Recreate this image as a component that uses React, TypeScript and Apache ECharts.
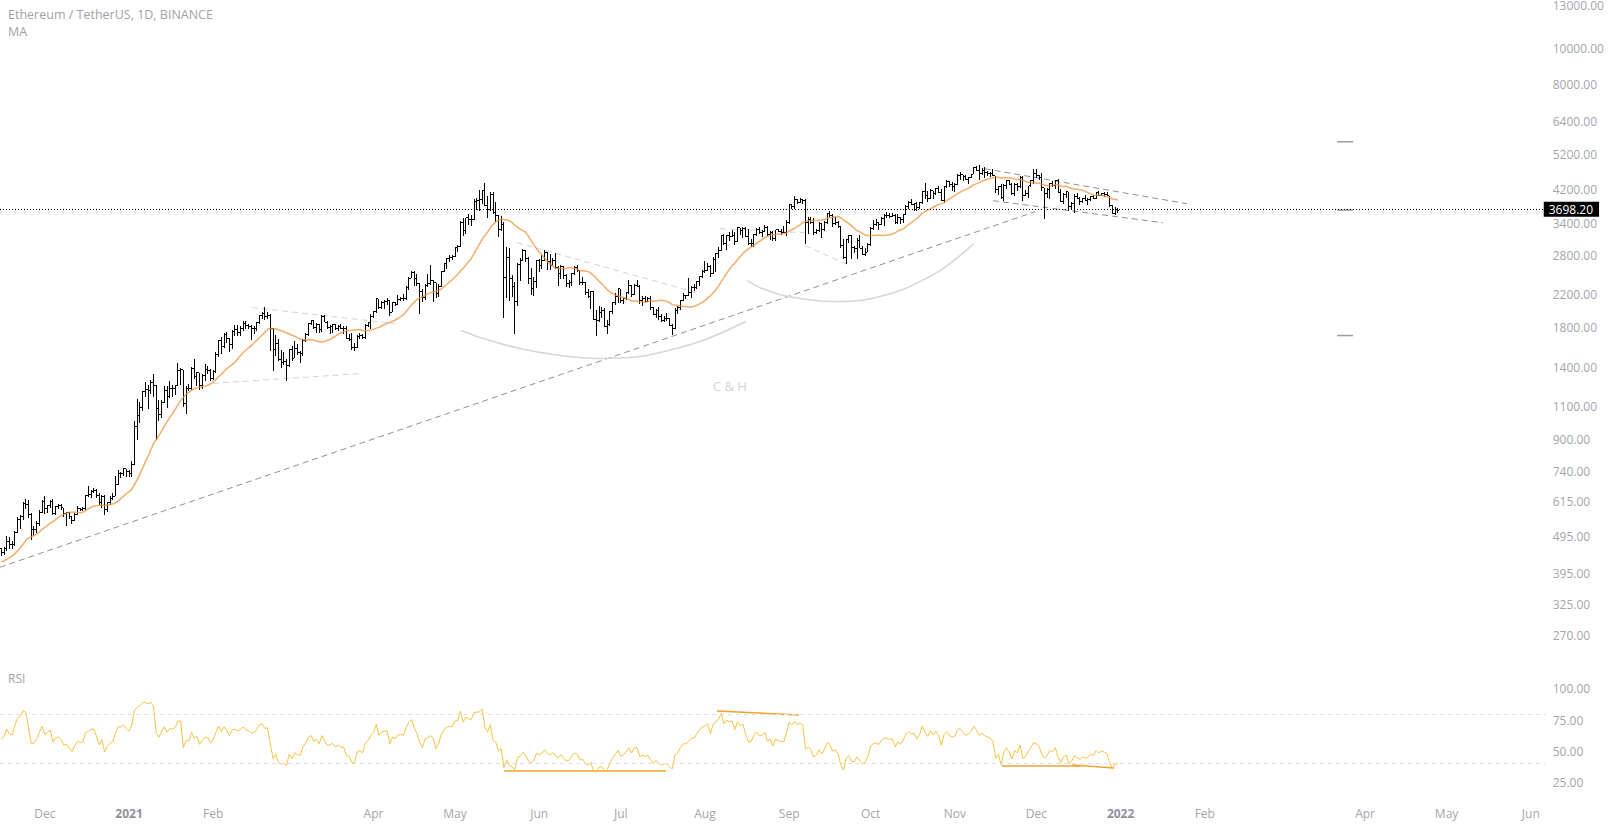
import React, { useEffect, useRef } from "react";
import * as echarts from "echarts";

// ---------- data ----------
const startDate = "2020-11-15"; // first bar (index 0)

// daily closes before the first visible bar (Oct 10 - Nov 14 2020), used for MA / RSI warm-up
const warmupCloses = [
  370, 375, 387, 381, 379, 377, 366, 368, 377, 379, 368, 392, 413, 409, 412, 406, 393, 404, 388, 386,
  382, 386, 396, 383, 388, 402, 415, 448, 435, 453, 444, 449, 462, 463, 475, 461,
];

const closes = [
  // Nov 2020 (15-30)
  448, 459, 481, 472, 471, 509, 549, 559, 608, 604, 567, 517, 518, 537, 575, 614,
  // Dec 2020
  587, 598, 616, 569, 596, 601, 591, 569, 573, 559, 545, 568, 590, 586, 589, 636, 643, 654, 659, 638, 609, 634, 584, 611, 626, 635, 683, 731, 731, 751, 737,
  // Jan 2021
  729, 774, 978, 1041, 1099, 1208, 1224, 1216, 1276, 1255, 1088, 1050, 1130, 1218, 1171, 1233, 1229, 1257, 1377, 1382, 1121, 1236, 1230, 1392, 1323, 1357, 1253, 1332, 1382, 1378, 1314,
  // Feb
  1369, 1515, 1660, 1593, 1723, 1679, 1614, 1750, 1769, 1743, 1784, 1843, 1813, 1804, 1779, 1782, 1846, 1937, 1960, 1919, 1935, 1781, 1568, 1626, 1475, 1446, 1459, 1417,
  // Mar
  1567, 1487, 1575, 1541, 1533, 1654, 1723, 1834, 1868, 1799, 1826, 1771, 1924, 1854, 1791, 1806, 1823, 1780, 1810, 1782, 1785, 1679, 1669, 1583, 1586, 1700, 1713, 1688, 1817, 1846, 1919,
  // Apr
  1977, 2143, 2028, 2093, 2108, 2118, 1971, 2088, 2072, 2135, 2152, 2139, 2299, 2432, 2514, 2423, 2355, 2237, 2161, 2331, 2357, 2403, 2364, 2211, 2316, 2534, 2662, 2747, 2757, 2773,
  // May
  2945, 2949, 3431, 3253, 3523, 3490, 3484, 3902, 3928, 3952, 4169, 3812, 3716, 4079, 3640, 3585, 3282, 3375, 2438, 2767, 2432, 2306, 2110, 2644, 2708, 2887, 2746, 2422, 2281, 2386, 2709,
  // Jun
  2632, 2709, 2856, 2689, 2630, 2711, 2592, 2508, 2610, 2471, 2353, 2372, 2508, 2590, 2549, 2366, 2374, 2231, 2178, 2244, 1889, 1875, 1970, 1989, 1808, 1829, 1981, 2087, 2169, 2275,
  // Jul
  2114, 2150, 2226, 2322, 2198, 2323, 2316, 2115, 2147, 2110, 2140, 2034, 1940, 1994, 1917, 1876, 1898, 1895, 1820, 1787, 1994, 2026, 2123, 2188, 2191, 2233, 2298, 2299, 2383, 2461, 2533,
  // Aug
  2557, 2608, 2507, 2723, 2827, 2890, 3157, 3013, 3163, 3141, 3164, 3048, 3322, 3265, 3309, 3148, 3012, 3017, 3182, 3287, 3226, 3242, 3322, 3173, 3225, 3100, 3272, 3244, 3226, 3224, 3433,
  // Sep
  3834, 3787, 3940, 3887, 3952, 3927, 3431, 3496, 3427, 3212, 3267, 3411, 3290, 3429, 3614, 3570, 3399, 3433, 3333, 2978, 2765, 3078, 3155, 2931, 2926, 3064, 2926, 2808, 2852, 3001,
  // Oct
  3308, 3391, 3418, 3381, 3518, 3581, 3587, 3563, 3576, 3416, 3543, 3495, 3605, 3791, 3868, 3830, 3847, 3748, 3875, 4156, 4053, 3971, 4167, 4084, 4218, 4132, 3922, 4285, 4415, 4322, 4288,
  // Nov
  4319, 4588, 4603, 4536, 4477, 4518, 4611, 4807, 4732, 4633, 4718, 4664, 4646, 4625, 4570, 4210, 4289, 3992, 4300, 4434, 4319, 4088, 4340, 4271, 4525, 4044, 4098, 4293, 4444, 4631,
  // Dec
  4588, 4519, 4240, 4101, 4198, 4347, 4310, 4434, 4111, 3894, 4074, 4136, 3785, 3861, 4022, 3961, 3889, 3960, 3923, 3942, 4022, 3982, 4109, 4048, 4094, 4069, 4036, 3794, 3628, 3711, 3698.2,
];

const highs = [
  462, 464, 497, 495, 483, 514, 558, 564, 612, 624, 619, 574, 529, 545, 582, 620,
  634, 600, 622, 623, 598, 605, 606, 592, 577, 575, 562, 574, 597, 591, 595, 641, 676, 660, 667, 663, 648, 640, 639, 614, 634, 649, 718, 745, 739, 754, 750,
  746, 787, 1011, 1154, 1132, 1212, 1280, 1260, 1298, 1348, 1260, 1146, 1148, 1250, 1250, 1290, 1262, 1260, 1440, 1395, 1384, 1255, 1267, 1404, 1476, 1364, 1358, 1345, 1435, 1415, 1386,
  1380, 1540, 1665, 1690, 1733, 1749, 1680, 1770, 1826, 1820, 1807, 1870, 1870, 1835, 1824, 1812, 1855, 1937, 1971, 2042, 1979, 1949, 1785, 1710, 1674, 1558, 1541, 1476,
  1570, 1600, 1652, 1623, 1548, 1669, 1734, 1845, 1875, 1881, 1843, 1832, 1944, 1936, 1870, 1822, 1833, 1838, 1820, 1832, 1813, 1806, 1726, 1740, 1629, 1710, 1733, 1727, 1837, 1853, 1947,
  1990, 2146, 2145, 2110, 2124, 2150, 2132, 2098, 2100, 2197, 2168, 2200, 2316, 2450, 2545, 2549, 2498, 2360, 2268, 2345, 2495, 2645, 2400, 2351, 2353, 2545, 2676, 2760, 2798, 2799,
  2950, 2985, 3458, 3531, 3530, 3600, 3580, 3970, 3982, 4197, 4190, 4372, 4042, 4146, 4145, 3890, 3583, 3560, 3437, 2950, 2930, 2480, 2382, 2663, 2752, 2910, 2890, 2765, 2585, 2450, 2715,
  2735, 2800, 2893, 2857, 2817, 2745, 2845, 2620, 2637, 2614, 2491, 2410, 2513, 2620, 2633, 2556, 2447, 2380, 2280, 2253, 2252, 2002, 2045, 2038, 2019, 1875, 1986, 2106, 2221, 2282,
  2276, 2151, 2238, 2400, 2325, 2347, 2409, 2328, 2185, 2182, 2160, 2177, 2040, 2007, 2033, 1956, 1930, 1960, 1905, 1839, 2025, 2045, 2130, 2214, 2196, 2434, 2318, 2344, 2397, 2470, 2550,
  2699, 2665, 2630, 2765, 2839, 2950, 3180, 3185, 3180, 3230, 3275, 3226, 3330, 3310, 3332, 3335, 3290, 3100, 3196, 3305, 3330, 3270, 3375, 3360, 3248, 3249, 3280, 3290, 3289, 3348, 3470,
  3838, 3840, 4027, 3970, 3975, 3966, 3950, 3542, 3550, 3520, 3290, 3435, 3400, 3466, 3625, 3675, 3606, 3546, 3450, 3363, 3100, 3100, 3174, 3169, 2966, 3117, 3172, 2965, 2922, 3018,
  3333, 3470, 3492, 3435, 3545, 3600, 3658, 3640, 3625, 3607, 3618, 3550, 3610, 3810, 3900, 3967, 3858, 3888, 3882, 4170, 4377, 4160, 4200, 4172, 4230, 4294, 4200, 4300, 4460, 4415, 4390,
  4380, 4609, 4662, 4603, 4578, 4529, 4632, 4822, 4840, 4868, 4780, 4810, 4705, 4689, 4774, 4574, 4300, 4345, 4340, 4448, 4445, 4367, 4375, 4370, 4555, 4550, 4180, 4300, 4460, 4760,
  4778, 4598, 4650, 4250, 4235, 4375, 4420, 4445, 4485, 4200, 4100, 4150, 4140, 3890, 4075, 4100, 4000, 3995, 4050, 3987, 4045, 4069, 4145, 4150, 4114, 4123, 4130, 4037, 3827, 3768, 3740,
];

const lows = [
  440, 441, 453, 460, 460, 468, 506, 520, 550, 585, 555, 485, 496, 506, 530, 572,
  570, 573, 590, 565, 565, 587, 584, 558, 530, 551, 536, 544, 566, 578, 581, 583, 630, 626, 646, 627, 601, 592, 567, 576, 602, 619, 634, 681, 711, 721, 716,
  714, 714, 768, 897, 998, 1071, 1167, 1085, 1195, 1170, 900, 1008, 1030, 1125, 1094, 1165, 1167, 1185, 1251, 1262, 1100, 1051, 1215, 1222, 1305, 1254, 1220, 1225, 1293, 1350, 1287,
  1295, 1360, 1500, 1520, 1583, 1636, 1545, 1570, 1706, 1700, 1700, 1760, 1775, 1780, 1657, 1729, 1756, 1829, 1887, 1876, 1890, 1551, 1370, 1510, 1460, 1400, 1424, 1293,
  1408, 1460, 1486, 1515, 1440, 1507, 1638, 1702, 1826, 1775, 1730, 1733, 1745, 1852, 1781, 1720, 1733, 1765, 1761, 1780, 1725, 1668, 1651, 1560, 1548, 1584, 1676, 1670, 1675, 1800, 1775,
  1905, 1960, 2014, 2010, 2009, 2065, 1925, 1970, 2052, 2060, 2110, 2116, 2131, 2260, 2427, 2320, 2320, 1950, 2100, 2120, 2306, 2335, 2104, 2150, 2166, 2305, 2523, 2580, 2680, 2720,
  2770, 2850, 2945, 3160, 3200, 3375, 3360, 3470, 3700, 3680, 3830, 3790, 3520, 3680, 3620, 3440, 3125, 3260, 1900, 2155, 2112, 2170, 1728, 2050, 2394, 2700, 2680, 2340, 2190, 2185, 2290,
  2533, 2571, 2695, 2560, 2558, 2617, 2578, 2317, 2420, 2425, 2308, 2283, 2321, 2475, 2524, 2335, 2326, 2186, 2149, 2011, 1881, 1700, 1860, 1901, 1802, 1727, 1806, 1945, 2062, 2091,
  2091, 2070, 2123, 2210, 2160, 2190, 2303, 2080, 2051, 2095, 2102, 2003, 1934, 1908, 1880, 1851, 1853, 1863, 1808, 1718, 1776, 1953, 2003, 2109, 2142, 2178, 2150, 2245, 2271, 2313, 2440,
  2509, 2546, 2450, 2497, 2529, 2749, 2880, 2982, 2901, 3060, 3136, 2976, 3030, 3178, 3111, 3140, 2980, 2953, 2951, 3160, 3195, 3140, 3240, 3155, 3080, 3060, 3060, 3225, 3166, 3210, 3150,
  3388, 3720, 3713, 3830, 3866, 3850, 3000, 3200, 3390, 3175, 3200, 3222, 3120, 3250, 3400, 3547, 3336, 3366, 3302, 2920, 2730, 2655, 3020, 2735, 2835, 2733, 2924, 2800, 2795, 2853,
  2968, 3271, 3351, 3270, 3374, 3363, 3520, 3530, 3550, 3400, 3395, 3386, 3420, 3587, 3725, 3810, 3678, 3683, 3720, 3840, 3957, 3896, 3953, 3972, 4066, 4110, 3900, 3862, 4230, 4260, 4150,
  4147, 4305, 4440, 4430, 4455, 4330, 4500, 4609, 4715, 4461, 4580, 4520, 4570, 4530, 4555, 4115, 4060, 3965, 3922, 4200, 4305, 4066, 4040, 4160, 4240, 3920, 4040, 3976, 4270, 4350,
  4507, 4463, 4170, 3500, 3994, 3950, 4275, 4220, 4100, 3880, 3844, 3993, 3677, 3693, 3640, 3956, 3807, 3853, 3910, 3820, 3919, 3955, 3970, 4030, 4035, 4010, 4024, 3760, 3610, 3590, 3622,
];

const lastPrice = 3698.2;
const maLength = 20;
const rsiLength = 14;
const rsiBands = [80, 40];

const priceTicks = [13000, 10000, 8000, 6400, 5200, 4200, 3400, 2800, 2200, 1800, 1400, 1100, 900, 740, 615, 495, 395, 325, 270];
const rsiTicks = [25, 50, 75, 100];

const monthLabels: [string, string][] = [
  ["2020-12-01", "Dec"], ["2021-01-01", "2021"], ["2021-02-01", "Feb"], ["2021-04-01", "Apr"],
  ["2021-05-01", "May"], ["2021-06-01", "Jun"], ["2021-07-01", "Jul"], ["2021-08-01", "Aug"],
  ["2021-09-01", "Sep"], ["2021-10-01", "Oct"], ["2021-11-01", "Nov"], ["2021-12-01", "Dec"],
  ["2022-01-01", "2022"], ["2022-02-01", "Feb"], ["2022-04-01", "Apr"], ["2022-05-01", "May"],
  ["2022-06-01", "Jun"],
];

// drawings, as [day index, price]
const trendLine = [[-0.5, 410], [380.5, 3662]];
const wedgeUpper = [[362, 4770], [436.4, 3847]];
const wedgeLower = [[365, 3919], [427.6, 3422]];
const triangleUpper = [[92.3, 2029], [144.9, 1839]];
const triangleLower = [[77.9, 1272], [132.8, 1352]];
const cupLineA = [[189.8, 3026], [257.2, 2212]];
const cupLineB = [[264.5, 3299], [295.8, 3218]];
const cupLineC = [[295.8, 2971], [312.4, 2627]];
const cupArc = [
  [169.2, 1762], [176.2, 1687], [183.6, 1626], [190.9, 1577], [198.3, 1539], [205.6, 1511], [213.0, 1492], [220.4, 1483],
  [227.7, 1487], [235.1, 1501], [242.5, 1539], [249.8, 1587], [257.2, 1646], [264.5, 1729], [274.1, 1862],
];
const handleArc = [
  [274.5, 2395], [279.3, 2294], [286.6, 2198], [294.0, 2145], [301.4, 2112], [308.7, 2105], [316.1, 2118],
  [323.4, 2171], [330.8, 2253], [338.2, 2381], [345.5, 2547], [352.9, 2794], [358.0, 3008],
];
const targetMarkPrices = [5633, 3698.2, 1708];
const targetMarkSpan = [491.7, 497.6];
const patternLabel = { x: 268.2, price: 1248, text: "C & H" };

// RSI drawings, as [day index, rsi]
const rsiLineJun = [[185.0, 33.9], [244.7, 33.9]];
const rsiLineAug = [[263.4, 82.3], [293.6, 79.0]];
const rsiLineDec1 = [[368.3, 37.9], [397.0, 37.9]];
const rsiLineDec2 = [[394.1, 38.7], [409.6, 36.3]];

// ---------- layout ----------
const DAY_W = 2.7166;
const SLOTS = 569;
const PLOT_W = SLOTS * DAY_W;
const FONT = '"Open Sans", "Noto Sans", sans-serif';
const AXIS_COLOR = "#a3a6ad";

const L = Math.log10;

function dayIndex(d: string) {
  return Math.round((Date.parse(d + "T00:00:00Z") - Date.parse(startDate + "T00:00:00Z")) / 86400000);
}

function buildOption() {
  const all = warmupCloses.concat(closes);
  const off = warmupCloses.length;

  const bars = closes.map((c, k) => {
    const o = all[off + k - 1];
    const h = Math.max(highs[k], o, c);
    const l = Math.min(lows[k], o, c);
    return [k, L(o), L(h), L(l), L(c)];
  });

  const ma = closes.map((_, k) => {
    const j = off + k;
    let s = 0;
    for (let t = j - maLength + 1; t <= j; t++) s += all[t];
    return [k, L(s / maLength)];
  });

  // Wilder RSI
  const rsiAll: number[] = new Array(all.length).fill(NaN);
  let ag = 0, al = 0;
  for (let t = 1; t < all.length; t++) {
    const ch = all[t] - all[t - 1];
    const g = Math.max(ch, 0), lo = Math.max(-ch, 0);
    if (t <= rsiLength) {
      ag += g / rsiLength;
      al += lo / rsiLength;
    } else {
      ag = (ag * (rsiLength - 1) + g) / rsiLength;
      al = (al * (rsiLength - 1) + lo) / rsiLength;
    }
    if (t >= rsiLength) rsiAll[t] = al === 0 ? 100 : 100 - 100 / (1 + ag / al);
  }
  const rsi = closes.map((_, k) => [k, rsiAll[off + k]]);

  const labelMap: Record<number, string> = {};
  monthLabels.forEach(([d, t]) => (labelMap[dayIndex(d)] = t));
  const labelIdx = Object.keys(labelMap).map(Number);

  const seg = (pts: number[][], color: string, type: any, width: number, pane = 0, smooth: any = false) => ({
    type: "line",
    xAxisIndex: pane,
    yAxisIndex: pane,
    data: pts.map(([x, y]) => [x, pane === 0 ? L(y) : y]),
    symbol: "none",
    smooth,
    silent: true,
    z: 2,
    lineStyle: { color, type, width },
  });

  const darkDash = "#8e9198";
  const lightDash = "#cfd3da";
  const arcColor = "#d6d6d6";
  const rsiDraw = "#f2a22e";

  const series: any[] = [
    seg(trendLine, darkDash, [6, 4], 1),
    seg(wedgeUpper, darkDash, [6, 4], 1),
    seg(wedgeLower, darkDash, [6, 4], 1),
    seg(triangleUpper, lightDash, [6, 4], 1),
    seg(triangleLower, lightDash, [6, 4], 1),
    seg(cupLineA, lightDash, [6, 4], 1),
    seg(cupLineB, lightDash, [6, 4], 1),
    seg(cupLineC, lightDash, [6, 4], 1),
    seg(cupArc, arcColor, "solid", 1.5, 0, 0.3),
    seg(handleArc, arcColor, "solid", 1.5, 0, 0.3),
    ...targetMarkPrices.map((p) => seg([[targetMarkSpan[0], p], [targetMarkSpan[1], p]], "#9b9ea5", "solid", 1.5)),
    {
      type: "custom",
      xAxisIndex: 0,
      yAxisIndex: 0,
      z: 3,
      silent: true,
      encode: { x: 0, y: [1, 2, 3, 4] },
      data: bars,
      renderItem: (params: any, api: any) => {
        const i = api.value(0);
        const pO = api.coord([i, api.value(1)]);
        const pH = api.coord([i, api.value(2)]);
        const pL = api.coord([i, api.value(3)]);
        const pC = api.coord([i, api.value(4)]);
        const x = Math.floor(pO[0]);
        const yH = Math.round(pH[1]);
        const yL = Math.round(pL[1]);
        const style = { fill: "#000" };
        return {
          type: "group",
          children: [
            { type: "rect", shape: { x, y: yH, width: 1, height: Math.max(1, yL - yH) }, style },
            { type: "rect", shape: { x: x - 1, y: Math.floor(pO[1]), width: 1, height: 1 }, style },
            { type: "rect", shape: { x: x + 1, y: Math.floor(pC[1]), width: 1, height: 1 }, style },
          ],
        };
      },
    },
    {
      type: "line",
      xAxisIndex: 0,
      yAxisIndex: 0,
      data: ma,
      symbol: "none",
      silent: true,
      z: 4,
      lineStyle: { color: "rgba(243,140,48,0.72)", width: 1.5 },
      markLine: {
        silent: true,
        symbol: ["none", "none"],
        z: 10,
        lineStyle: { color: "#000", type: [1, 2], width: 1 },
        label: {
          show: true,
          position: "end",
          distance: -2,
          formatter: lastPrice.toFixed(2),
          color: "#fff",
          backgroundColor: "#000",
          padding: [2, 6, 1, 5],
          fontSize: 12,
          fontFamily: FONT,
        },
        data: [{ yAxis: L(lastPrice) }],
      },
    },
    {
      type: "scatter",
      xAxisIndex: 0,
      yAxisIndex: 0,
      silent: true,
      symbolSize: 1,
      itemStyle: { color: "rgba(0,0,0,0)" },
      label: {
        show: true,
        position: "inside",
        formatter: patternLabel.text,
        color: "#c4c7cd",
        fontSize: 13,
        fontFamily: FONT,
      },
      data: [[patternLabel.x, L(patternLabel.price)]],
    },
    {
      type: "line",
      xAxisIndex: 1,
      yAxisIndex: 1,
      data: rsi,
      symbol: "none",
      silent: true,
      z: 3,
      lineStyle: { color: "#f6c244", width: 1 },
      markLine: {
        silent: true,
        symbol: ["none", "none"],
        label: { show: false },
        lineStyle: { color: "#dcdfe5", type: [4, 4], width: 1 },
        data: rsiBands.map((v) => ({ yAxis: v })),
      },
    },
    seg(rsiLineJun, rsiDraw, "solid", 1.5, 1),
    seg(rsiLineAug, rsiDraw, "solid", 1.5, 1),
    seg(rsiLineDec1, rsiDraw, "solid", 1.5, 1),
    seg(rsiLineDec2, rsiDraw, "solid", 1.5, 1),
  ];

  const hiddenX = (gridIndex: number) => ({
    type: "value",
    gridIndex,
    min: -0.5,
    max: SLOTS - 0.5,
    axisLine: { show: false },
    axisTick: { show: false },
    splitLine: { show: false },
    axisLabel: { show: false },
  });

  const nearestTick = (v: number) => {
    let best = priceTicks[0];
    for (const p of priceTicks) if (Math.abs(L(p) - v) < Math.abs(L(best) - v)) best = p;
    return best;
  };

  return {
    animation: false,
    backgroundColor: "#ffffff",
    textStyle: { fontFamily: FONT },
    grid: [
      { left: 0, top: 0, width: PLOT_W, height: 655, containLabel: false, outerBoundsMode: "none" },
      { left: 0, top: 657, width: PLOT_W, height: 143, containLabel: false, outerBoundsMode: "none" },
    ],
    xAxis: [
      hiddenX(0),
      {
        ...hiddenX(1),
        axisLabel: {
          show: true,
          customValues: labelIdx,
          formatter: (v: number) => {
            const t = labelMap[Math.round(v)] ?? "";
            return /^\d{4}$/.test(t) ? `{y|${t}}` : t;
          },
          color: AXIS_COLOR,
          fontSize: 12,
          margin: 7,
          fontFamily: FONT,
          rich: { y: { color: "#8f929a", fontWeight: "bold", fontSize: 12, fontFamily: FONT } },
        },
      },
    ],
    yAxis: [
      {
        type: "value",
        gridIndex: 0,
        position: "right",
        min: L(priceTicks[priceTicks.length - 1]) - (655 - 635) / 374.4,
        max: L(priceTicks[0]) + 6 / 374.4,
        axisLine: { show: false },
        axisTick: { show: false },
        splitLine: { show: false },
        axisLabel: {
          customValues: priceTicks.map(L),
          formatter: (v: number) => nearestTick(v).toFixed(2),
          color: AXIS_COLOR,
          fontSize: 12,
          margin: 7,
          fontFamily: FONT,
        },
      },
      {
        type: "value",
        gridIndex: 1,
        position: "right",
        min: 10.5,
        max: 125.8,
        axisLine: { show: false },
        axisTick: { show: false },
        splitLine: { show: false },
        axisLabel: {
          customValues: rsiTicks,
          formatter: (v: number) => v.toFixed(2),
          color: AXIS_COLOR,
          fontSize: 12,
          margin: 7,
          fontFamily: FONT,
        },
      },
    ],
    graphic: [
      { type: "text", left: 8, top: 8, style: { text: "Ethereum / TetherUS, 1D, BINANCE", fill: "#a0a3aa", font: `12.5px ${FONT}` } },
      { type: "text", left: 8, top: 25, style: { text: "MA", fill: "#a0a3aa", font: `12.5px ${FONT}` } },
      { type: "text", left: 8, top: 672, style: { text: "RSI", fill: "#a0a3aa", font: `12px ${FONT}` } },
    ],
    series,
  };
}

export default function App() {
  const ref = useRef<HTMLDivElement>(null);
  useEffect(() => {
    const chart = echarts.init(ref.current as HTMLDivElement, null, { renderer: "svg" });
    chart.setOption(buildOption() as any);
    return () => chart.dispose();
  }, []);
  return (
    <div
      ref={ref}
      style={{ position: "fixed", left: 0, top: 0, width: 1613, height: 827, background: "#fff" }}
    />
  );
}
